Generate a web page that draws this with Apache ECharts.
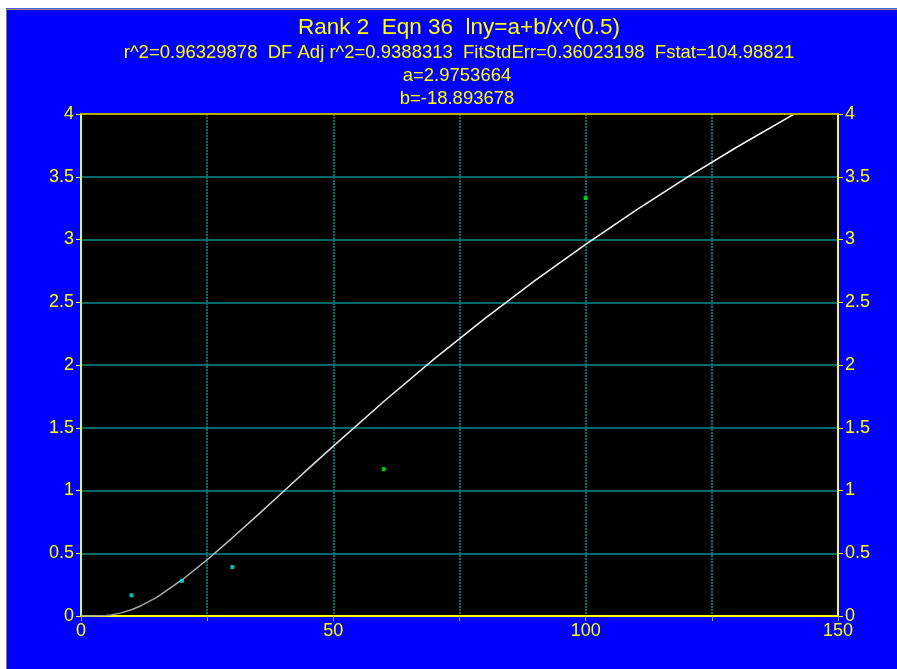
<!DOCTYPE html>
<html>
<head>
<meta charset="utf-8">
<script src="https://cdn.jsdelivr.net/npm/echarts@6/dist/echarts.min.js"></script>
<style>
html,body{margin:0;padding:0;background:#ffffff;}
#chart{width:897px;height:669px;}
</style>
</head>
<body>
<div id="chart"></div>
<script>
// ---- data ----
var titleLines = [
  'Rank 2  Eqn 36  lny=a+b/x^(0.5)',
  'r^2=0.96329878  DF Adj r^2=0.9388313  FitStdErr=0.36023198  Fstat=104.98821',
  'a=2.9753664',
  'b=-18.893678'
];
var pointX = [10, 20, 30, 60, 100];
var pointY = [0.165, 0.28, 0.39, 1.17, 3.33];
var curveX = [0, 2, 4, 5, 6, 8, 10, 12, 15, 20, 25, 30, 35, 40, 45, 50, 60, 70, 80, 90, 100, 110, 120, 130, 140, 142];
var curveY = [0, 0, 0.001, 0.004, 0.009, 0.025, 0.05, 0.084, 0.149, 0.287, 0.448, 0.623, 0.804, 0.988, 1.172, 1.354, 1.709, 2.049, 2.37, 2.675, 2.962, 3.235, 3.493, 3.737, 3.969, 4.015];
var xTicks = [0, 50, 100, 150];
var yTicks = ['0', '0.5', '1', '1.5', '2', '2.5', '3', '3.5', '4'];

var FONT = 'Liberation Sans, Arial, sans-serif';
var YEL = '#ffff00';

var curveData = curveX.map(function (x, i) { return [x, curveY[i]]; });
var pointData = pointX.map(function (x, i) { return [x, pointY[i]]; });

var chart = echarts.init(document.getElementById('chart'), null, {renderer: 'canvas'});

function yLabel(v) {
  var s = String(Math.round(v * 10) / 10);
  return yTicks.indexOf(s) >= 0 ? s : '';
}

var option = {
  backgroundColor: '#0000ff',
  animation: false,
  grid: {left: 81, right: 59, top: 114, bottom: 53, show: true, backgroundColor: '#000000', borderWidth: 0},
  graphic: [
    {type: 'rect', shape: {x: 0, y: 0, width: 897, height: 8}, style: {fill: '#ffffff'}, silent: true},
    {type: 'rect', shape: {x: 0, y: 0, width: 6, height: 669}, style: {fill: '#ffffff'}, silent: true},
    {type: 'rect', shape: {x: 6, y: 8, width: 891, height: 1}, style: {fill: '#4a5ae8'}, silent: true},
    {type: 'rect', shape: {x: 6, y: 9, width: 891, height: 1}, style: {fill: '#9a9a6a'}, silent: true},
    {type: 'rect', shape: {x: 6, y: 9, width: 1, height: 660}, style: {fill: '#7a7a5a'}, silent: true},
    {type: 'text', x: 459, y: 28, style: {text: titleLines[0], fill: YEL, font: '22.5px ' + FONT, textAlign: 'center', textVerticalAlign: 'middle'}},
    {type: 'text', x: 459, y: 53, style: {text: titleLines[1], fill: YEL, font: '18.5px ' + FONT, textAlign: 'center', textVerticalAlign: 'middle'}},
    {type: 'text', x: 457, y: 76, style: {text: titleLines[2], fill: YEL, font: '18.5px ' + FONT, textAlign: 'center', textVerticalAlign: 'middle'}},
    {type: 'text', x: 457, y: 99, style: {text: titleLines[3], fill: YEL, font: '18.5px ' + FONT, textAlign: 'center', textVerticalAlign: 'middle'}},
    // top border of plot (olive)
    {type: 'rect', shape: {x: 81, y: 113, width: 757, height: 2}, style: {fill: '#b0b000'}, silent: true, z: 100}
  ],
  xAxis: {
    type: 'value', min: 0, max: 150, interval: 25,
    axisLine: {show: true, onZero: false, lineStyle: {color: YEL, width: 2}},
    axisTick: {show: true, length: 5, lineStyle: {color: '#a0a0a0'}},
    axisLabel: {
      color: YEL, fontFamily: FONT, fontSize: 18, margin: 6,
      formatter: function (v) { return xTicks.indexOf(v) >= 0 ? String(v) : ''; }
    },
    splitLine: {show: true, lineStyle: {color: '#007070', type: [2, 1], width: 2}}
  },
  yAxis: [
    {
      type: 'value', min: 0, max: 4, interval: 0.5, position: 'left',
      axisLine: {show: true, onZero: false, lineStyle: {color: '#c8ff60', width: 2}},
      axisTick: {show: true, length: 5, lineStyle: {color: YEL}},
      axisLabel: {color: YEL, fontFamily: FONT, fontSize: 18, margin: 7, formatter: yLabel},
      splitLine: {show: true, lineStyle: {color: '#006a6a', width: 2, type: 'solid'}}
    },
    {
      type: 'value', min: 0, max: 4, interval: 0.5, position: 'right',
      axisLine: {show: true, onZero: false, lineStyle: {color: YEL, width: 2}},
      axisTick: {show: true, length: 5, lineStyle: {color: YEL}},
      axisLabel: {color: YEL, fontFamily: FONT, fontSize: 18, margin: 7, formatter: yLabel},
      splitLine: {show: false}
    }
  ],
  series: [
    {
      type: 'line', data: curveData, showSymbol: false, smooth: false, clip: true,
      lineStyle: {width: 1.5, color: {type: 'linear', x: 0, y: 1, x2: 0, y2: 0, colorStops: [{offset: 0, color: '#a0a0a0'}, {offset: 0.35, color: '#e8e8e8'}, {offset: 1, color: '#ffffff'}]}},
      z: 3
    },
    {
      type: 'scatter', data: pointData, symbol: 'rect', symbolSize: 4,
      itemStyle: {color: function (p) { return p.dataIndex < 3 ? '#00e8e8' : '#00ff00'; }},
      z: 4
    }
  ]
};
chart.setOption(option);
</script>
</body>
</html>
